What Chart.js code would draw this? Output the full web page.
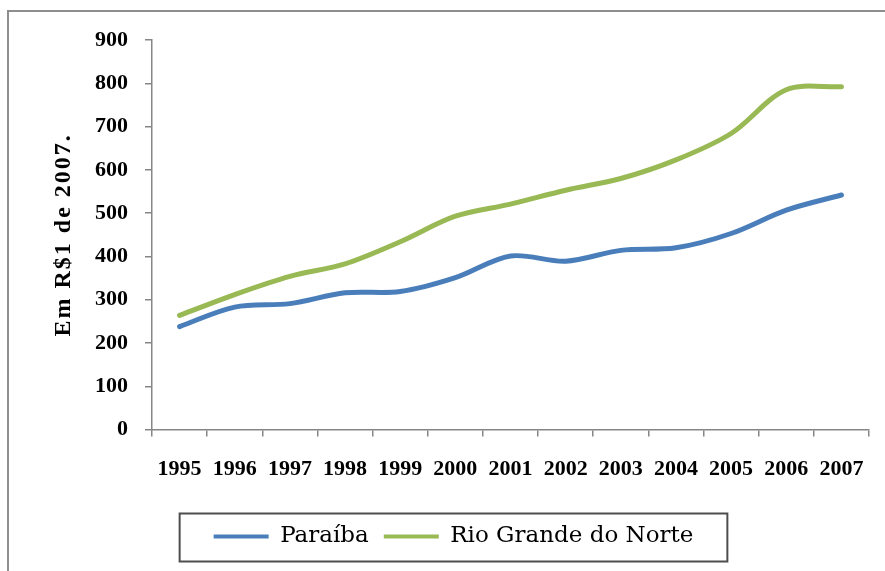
<!DOCTYPE html>
<html>
<head>
<meta charset="utf-8">
<script src="https://cdn.jsdelivr.net/npm/chart.js@4"></script>
<style>
    html, body { margin: 0; padding: 0; background: #fff; overflow: hidden; }
    #frame {
        position: absolute; left: 7px; top: 10px; width: 1000px; height: 1000px;
        border-left: 2px solid #8e8e8e; border-top: 2px solid #8e8e8e;
    }
    #chart { position: absolute; left: 0; top: 0; }
</style>
</head>
<body>
<div id="frame"></div>
<canvas id="chart" width="885" height="571"></canvas>
<script>
(function () {
    "use strict";

    // data
    const years = ["1995", "1996", "1997", "1998", "1999", "2000", "2001",
                   "2002", "2003", "2004", "2005", "2006", "2007"];
    const paraiba = [238, 283, 291, 316, 319, 351, 401, 389, 414, 420, 453, 507, 542];
    const rioGrandeNorte = [264, 312, 354, 383, 434, 493, 521, 553, 580, 623, 684, 785, 792];
    const seriesNames = ["Paraíba", "Rio Grande do Norte"];
    const yTitle = "Em R$1 de 2007.";

    const blue = "#4a7ebb";
    const green = "#98b954";
    const axisGrey = "#868686";
    const serif = "'Liberation Serif', 'Times New Roman', serif";
    const tickFont = { family: serif, size: 22, weight: "bold" };

    // frame round the legend items
    const legendBox = {
        id: "legendBox",
        afterDraw(chart) {
            const boxes = chart.legend && chart.legend.legendHitBoxes;
            if (!boxes || !boxes.length) return;
            const first = boxes[0];
            const last = boxes[boxes.length - 1];
            const cy = first.top + first.height / 2;
            const ctx = chart.ctx;
            ctx.save();
            ctx.strokeStyle = "#4d4d4d";
            ctx.lineWidth = 2;
            ctx.strokeRect(first.left - 34, cy - 23, last.left + last.width - first.left + 68, 48);
            ctx.restore();
        },
    };

    // the axis title in the picture is spaced out a little
    const spacedTitle = {
        id: "spacedTitle",
        beforeDraw(chart) {
            const s = chart.scales.y;
            if (!s || s._spaced) return;
            const orig = s.drawTitle.bind(s);
            s.drawTitle = function () {
                const c = this.ctx;
                c.save();
                c.letterSpacing = "2px";
                orig();
                c.restore();
            };
            s._spaced = true;
        },
    };

    function draw() {
        new Chart(document.getElementById("chart").getContext("2d"), {
            type: "line",
            data: {
                labels: years,
                datasets: [
                    { label: seriesNames[0], data: paraiba, borderColor: blue, backgroundColor: blue },
                    { label: seriesNames[1], data: rioGrandeNorte, borderColor: green, backgroundColor: green },
                ],
            },
            options: {
                responsive: false,
                animation: false,
                layout: { padding: { left: 38, right: 16, top: 40, bottom: 13 } },
                elements: {
                    line: { borderWidth: 5, tension: 0.33, borderCapStyle: "round", borderJoinStyle: "round", fill: false },
                    point: { radius: 0, hoverRadius: 0 },
                },
                plugins: {
                    tooltip: { enabled: false },
                    legend: {
                        position: "bottom",
                        labels: {
                            color: "#000",
                            font: { family: "'DejaVu Serif', serif", size: 23 },
                            boxWidth: 55,
                            boxHeight: 4,
                            padding: 15,
                            generateLabels(chart) {
                                return chart.data.datasets.map((ds, i) => ({
                                    text: ds.label,
                                    fillStyle: ds.borderColor,
                                    strokeStyle: ds.borderColor,
                                    lineWidth: 0,
                                    fontColor: "#000",
                                    datasetIndex: i,
                                    hidden: false,
                                }));
                            },
                        },
                    },
                },
                scales: {
                    x: {
                        offset: true,
                        border: { color: axisGrey, width: 1.5 },
                        grid: { offset: true, drawOnChartArea: false, drawTicks: true, tickLength: 7, color: axisGrey, lineWidth: 1.5 },
                        ticks: { color: "#000", font: tickFont, padding: 20, autoSkip: false, maxRotation: 0, minRotation: 0 },
                        afterFit(scale) { scale.height += 7; },
                    },
                    y: {
                        min: 0,
                        max: 900,
                        border: { color: axisGrey, width: 1.5 },
                        grid: { drawOnChartArea: false, drawTicks: true, tickLength: 7, color: axisGrey, lineWidth: 1.5 },
                        ticks: { color: "#000", font: tickFont, stepSize: 100, padding: 17 },
                        title: {
                            display: true,
                            text: yTitle,
                            color: "#000",
                            font: { family: serif, size: 24, weight: "bold" },
                            padding: { top: 11, bottom: 0 },
                        },
                        afterFit(scale) { scale.width = 114; },
                    },
                },
            },
            plugins: [legendBox, spacedTitle],
        });
    }

    // make sure the installed faces are ready before the canvas uses them
    Promise.all([
        document.fonts.load("bold 22px 'Liberation Serif'"),
        document.fonts.load("23px 'DejaVu Serif'"),
    ]).then(draw, draw);
})();
</script>
</body>
</html>
